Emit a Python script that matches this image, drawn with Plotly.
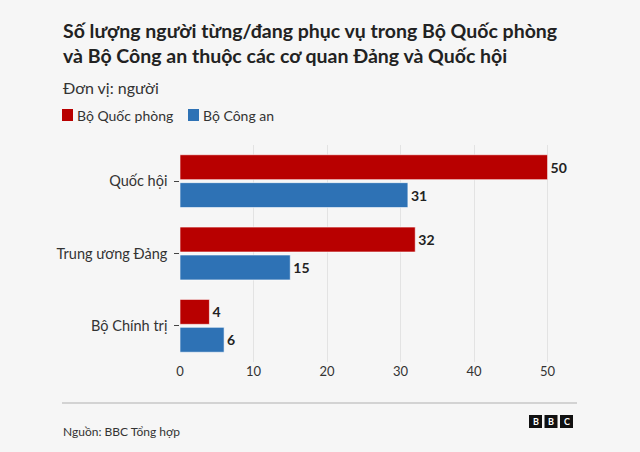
import plotly.graph_objects as go

categories = ["Quốc hội", "Trung ương Đảng", "Bộ Chính trị"]
series_names = ["Bộ Quốc phòng", "Bộ Công an"]
quoc_phong = [50, 32, 4]
cong_an = [31, 15, 6]
x_ticks = [0, 10, 20, 30, 40, 50]

colors = ["#b80000", "#2e72b5"]
FONT = "Lato"
W, H = 640, 452
L, R, T, B = 180, 577, 145, 362  # plot area in px


def px(x):
    return (x - L) / (R - L)


def py(y):
    return (B - y) / (B - T)


fig = go.Figure()
for name, vals, col in zip(series_names, [quoc_phong, cong_an], colors):
    fig.add_trace(go.Bar(
        y=categories, x=vals, name=name, orientation="h",
        marker=dict(color=col, line=dict(color="rgba(255,255,255,0.6)", width=1)),
        text=vals, textposition="outside", cliponaxis=False,
        textfont=dict(family=FONT, size=14, color="#222222", weight="bold"),
    ))

fig.update_layout(
    width=W, height=H,
    margin=dict(l=L, r=W - R, t=T, b=H - B),
    paper_bgcolor="#f6f6f6", plot_bgcolor="#f6f6f6",
    barmode="group", bargap=0.228, bargroupgap=0.107,
    font=dict(family=FONT, color="#333333"),
    showlegend=False,
    xaxis=dict(range=[0, 54], tickvals=x_ticks, showgrid=True, gridcolor="#e3e3e3",
               zeroline=False, showline=False, ticks="",
               tickfont=dict(size=13, color="#333333")),
    yaxis=dict(autorange="reversed", ticks="outside", ticklen=5, tickcolor="#444444",
               showline=False, tickfont=dict(size=14.5, color="#333333"), ticksuffix=" "),
)

fig.add_annotation(text="<b>Số lượng người từng/đang phục vụ trong Bộ Quốc phòng<br>và Bộ Công an thuộc các cơ quan Đảng và Quốc hội</b>",
                   xref="paper", yref="paper", x=px(61), y=py(17), xanchor="left", yanchor="top",
                   align="left", showarrow=False, font=dict(size=19.5, color="#222222", family=FONT))
fig.add_annotation(text="Đơn vị: người", xref="paper", yref="paper", x=px(61), y=py(88),
                   xanchor="left", yanchor="middle", showarrow=False,
                   font=dict(size=16, color="#333333", family=FONT))

# legend drawn manually
leg_x = [62, 188]
for name, col, lx in zip(series_names, colors, leg_x):
    fig.add_shape(type="rect", xref="paper", yref="paper", x0=px(lx), x1=px(lx + 11),
                  y0=py(109), y1=py(121), fillcolor=col, line=dict(width=0))
    fig.add_annotation(text=name, xref="paper", yref="paper", x=px(lx + 13), y=py(115.5),
                       xanchor="left", yanchor="middle", showarrow=False,
                       font=dict(size=14, color="#333333", family=FONT))

fig.add_annotation(text="Nguồn: BBC Tổng hợp", xref="paper", yref="paper", x=px(61), y=py(431),
                   xanchor="left", yanchor="middle", showarrow=False,
                   font=dict(size=12, color="#333333", family=FONT))
fig.add_shape(type="line", xref="paper", yref="paper", x0=px(62), x1=px(577), y0=py(403), y1=py(403),
              line=dict(color="#b0b0b0", width=1))

for i, letter in enumerate("BBC"):
    x0 = 529 + i * 15.5
    fig.add_shape(type="rect", xref="paper", yref="paper", x0=px(x0), x1=px(x0 + 13),
                  y0=py(415), y1=py(428), fillcolor="#111111", line=dict(width=0), layer="below")
    fig.add_annotation(text="<b>" + letter + "</b>", xref="paper", yref="paper",
                       x=px(x0 + 6.5), y=py(421.5), xanchor="center", yanchor="middle",
                       showarrow=False, font=dict(size=9, color="#ffffff", family=FONT))

fig.write_html("out.html", config={"displayModeBar": False},
               post_script="document.body.style.margin='0';document.body.style.padding='0';")
